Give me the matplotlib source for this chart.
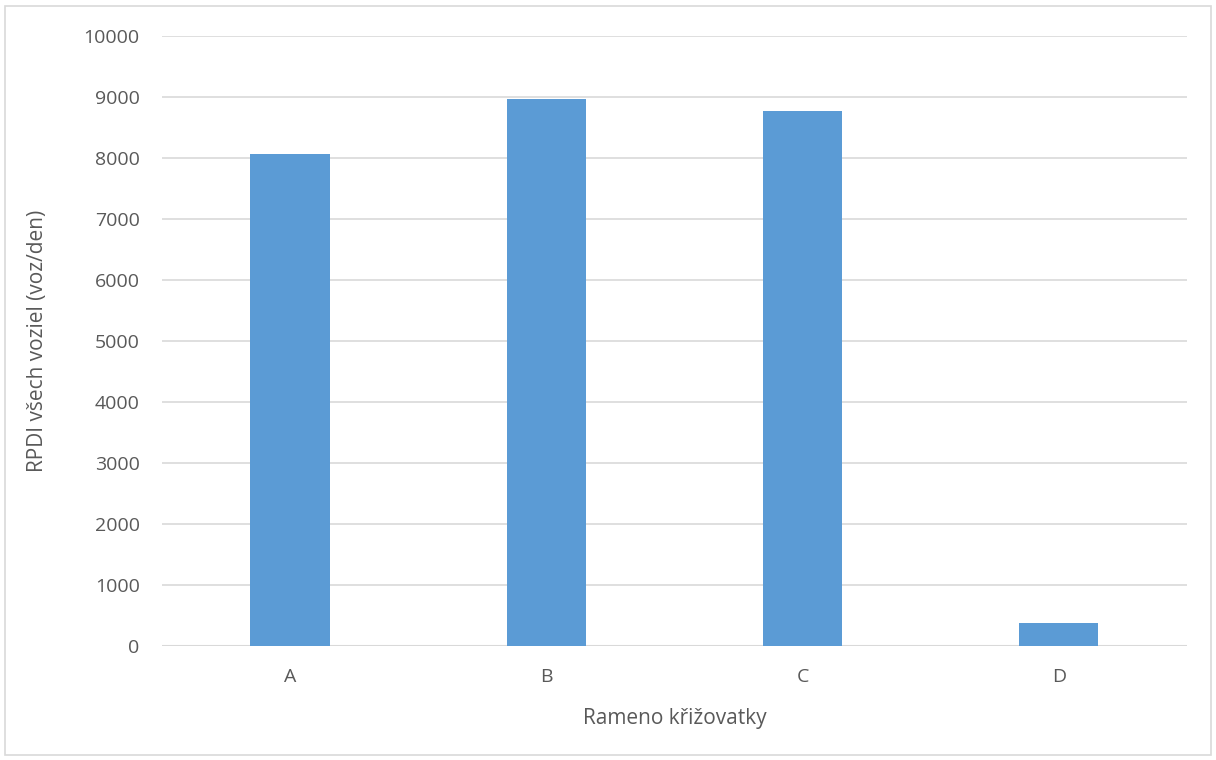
import matplotlib.pyplot as plt
from matplotlib.patches import Rectangle

# RPDI per intersection arm
ramena = ['A', 'B', 'C', 'D']
rpdi = [8070, 8965, 8765, 380]

plt.rcParams['font.family'] = ['Open Sans', 'DejaVu Sans']
txt = '#595959'

fig = plt.figure(figsize=(12.16, 7.6), dpi=100)
ax = fig.add_axes([0.1332, 0.15, 0.8428, 0.8026])

ax.bar(range(len(ramena)), rpdi, width=0.31, color='#5B9BD5', zorder=2)
ax.set_xlim(-0.5, len(ramena) - 0.5)
ax.set_ylim(0, 10000)
ax.set_yticks(range(0, 10001, 1000))
ax.set_xticks(range(len(ramena)))
ax.set_xticklabels(ramena)

ax.grid(axis='y', color='#D9D9D9', linewidth=1.2, zorder=0)
for s in ax.spines.values():
    s.set_visible(False)
ax.axhline(0, color='#D9D9D9', linewidth=1.5, zorder=1)
ax.tick_params(length=0, labelsize=14, colors=txt)
ax.tick_params(axis='y', pad=16)
ax.tick_params(axis='x', pad=16)

ax.set_xlabel('Rameno křižovatky', fontsize=15, color=txt, labelpad=16)
ax.set_ylabel('RPDI všech voziel (voz/den)', fontsize=15, color=txt, labelpad=26)

# light frame round the whole chart
fig.patches.append(Rectangle((5 / 1216, 5 / 760), 1206 / 1216, 749 / 760,
                             transform=fig.transFigure, fill=False,
                             edgecolor='#D9D9D9', linewidth=1.2))

fig.savefig('out.png', dpi=100)
